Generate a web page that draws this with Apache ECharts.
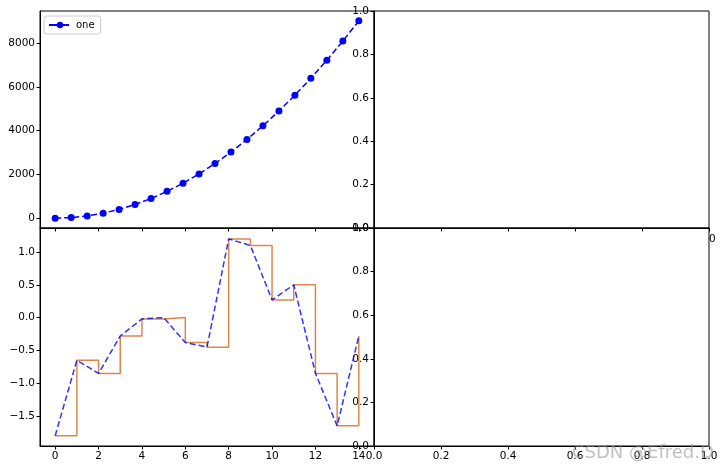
<!DOCTYPE html>
<html><head><meta charset="utf-8">
<script src="https://cdn.jsdelivr.net/npm/echarts@6/dist/echarts.min.js"></script>
<style>html,body{margin:0;padding:0;background:#fff}#c{width:724px;height:470px}</style>
</head><body><div id="c"></div>
<script>
const xTop = [0,0.737,1.474,2.211,2.947,3.684,4.421,5.158,5.895,6.632,7.368,8.105,8.842,9.579,10.316,11.053,11.789,12.526,13.263,14];
const yTop = [0,25,100,225,400,625,900,1225,1600,2025,2500,3025,3600,4225,4900,5625,6400,7225,8100,9025];
const xWalk = [0,1,2,3,4,5,6,7,8,9,10,11,12,13,14];
const yWalk = [-1.8,-0.65,-0.85,-0.28,-0.02,0.0,-0.38,-0.45,1.2,1.1,0.27,0.5,-0.85,-1.65,-0.28];
const xTicksLeft = [0,2,4,6,8,10,12,14];
const yTicksTop = [0,2000,4000,6000,8000];
const yTicksBottom = [-1.5,-1.0,-0.5,0.0,0.5,1.0];
const unitTicks = [0,0.2,0.4,0.6,0.8,1.0];

const font = {fontFamily:'DejaVu Sans', fontSize:10.5, color:'#000'};
function axis(gi, min, max, ticks, showLabel, fmt){
  return {type:'value', gridIndex:gi, min, max,
    axisLine:{show:true,onZero:false,lineStyle:{color:'#000',width:1}},
    axisTick:{show:true,inside:false,length:3.5,lineStyle:{color:'#000'},customValues:ticks},
    axisLabel:Object.assign({show:showLabel,margin:5,customValues:ticks,formatter:fmt},font),
    splitLine:{show:false}};
}
const f1 = v=>(Math.abs(v)<1e-9?0:v).toFixed(1).replace('-','\u2212');
const fi = v=>String(Math.round(v));
const grids = [
  {left:40,top:11,width:334,height:217},
  {left:40,top:228,width:334,height:218},
  {left:374,top:11,width:335,height:217},
  {left:374,top:228,width:335,height:218}
].map(g=>Object.assign(g,{show:true,borderColor:'#000',borderWidth:1,backgroundColor:'transparent'}));
grids[3].backgroundColor='#fff';

const walk = xWalk.map((x,i)=>[x,yWalk[i]]);
const option = {
  animation:false,
  grid:grids,
  xAxis:[
    axis(0,-0.7,14.7,xTicksLeft,false,fi),
    axis(1,-0.7,14.7,xTicksLeft,true,fi),
    axis(2,0,1,unitTicks,false,f1),
    axis(3,0,1,unitTicks,true,f1)
  ],
  yAxis:[
    axis(0,-451,9476,yTicksTop,true,fi),
    axis(1,-1.957,1.366,yTicksBottom,true,f1),
    axis(2,0,1,unitTicks,true,f1),
    axis(3,0,1,unitTicks,true,f1)
  ],
  legend:{show:true,left:44,top:16,itemWidth:22,itemHeight:8,itemGap:5,padding:[4,6,4,4],
    borderColor:'#ccc',borderWidth:1,borderRadius:3,backgroundColor:'#fff',
    textStyle:{fontFamily:'DejaVu Sans',fontSize:10,color:'#000'},data:['one']},
  series:[
    {name:'one',type:'line',xAxisIndex:0,yAxisIndex:0,data:xTop.map((x,i)=>[x,yTop[i]]),
     symbol:'circle',symbolSize:7,lineStyle:{color:'#0000ff',type:'dashed',width:1.5},
     itemStyle:{color:'#0000ff'},z:3},
    {type:'line',xAxisIndex:1,yAxisIndex:1,data:walk,step:'end',symbol:'none',
     lineStyle:{color:'#d2691e',opacity:0.8,width:1.5},z:2},
    {type:'line',xAxisIndex:1,yAxisIndex:1,data:walk,symbol:'none',
     lineStyle:{color:'#0000ff',opacity:0.8,type:'dashed',width:1.5},z:3}
  ],
  graphic:[
    {type:'text',left:709,top:234,style:{text:'0',font:'10.5px DejaVu Sans',fill:'#000'}},
    {type:'text',left:572,top:444,z:100,style:{text:'CSDN @Efred.D',font:'18px DejaVu Sans',fill:'rgba(150,150,150,0.6)'}}
  ]
};
echarts.init(document.getElementById('c')).setOption(option);
</script></body></html>
